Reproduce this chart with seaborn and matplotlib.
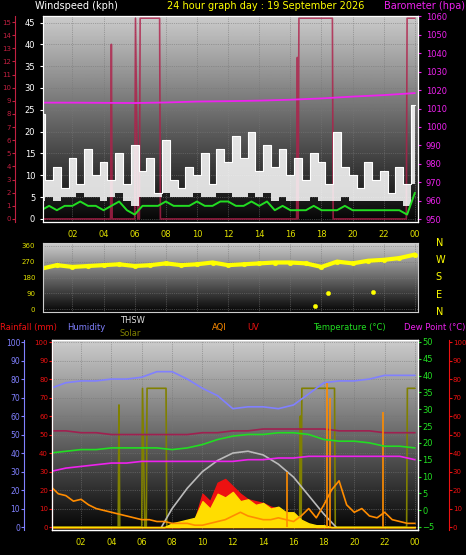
import numpy as np
import matplotlib
matplotlib.use("Agg")
import matplotlib.pyplot as plt
import seaborn as sns

# -----------------------------
# Data
# -----------------------------
half_hours = [i * 0.5 for i in range(49)]
hours = list(range(25))
two_hours = list(range(0, 25, 2))

wind_gust = [24, 9, 12, 7, 14, 8, 16, 10, 13, 9, 15, 8, 17, 11, 14, 6, 18, 9, 7, 12,
             10, 15, 8, 16, 13, 19, 14, 20, 11, 17, 12, 16, 10, 14, 9, 15, 13, 8, 20, 12,
             10, 7, 13, 9, 11, 6, 12, 8, 26]
wind_low = [4, 5, 4, 5, 5, 6, 5, 5, 4, 5, 6, 4, 3, 5, 5, 5, 6, 5, 5, 5, 6, 5, 5, 6, 6,
            5, 5, 6, 5, 6, 4, 5, 4, 4, 4, 5, 4, 4, 4, 5, 4, 4, 4, 4, 4, 4, 4, 3, 8]
wind_avg = [2, 3, 2, 3, 3, 4, 3, 3, 2, 3, 4, 2, 1, 3, 3, 3, 4, 3, 3, 3, 4, 3, 3, 4, 4,
            3, 3, 4, 3, 4, 2, 3, 2, 2, 2, 3, 2, 2, 2, 3, 2, 2, 2, 2, 2, 2, 2, 1, 6]
barometer = [1013.2, 1013.2, 1013.1, 1013.0, 1013.3, 1013.8, 1014.0, 1014.3, 1014.8,
             1015.5, 1016.5, 1017.3, 1018.4]
rain_t = [0, 4.45, 4.5, 4.55, 6.0, 6.05, 6.2, 6.3, 6.35, 7.6, 7.65, 16.4, 16.45, 16.5, 16.55,
          18.7, 18.75, 23.45, 23.5, 24.0]
rain_v = [0, 0, 40, 0, 0, 46, 0, 0, 46, 46, 0, 0, 37, 0, 46, 46, 0, 0, 46, 46]

wind_dir = [230, 250, 240, 245, 250, 255, 245, 250, 260, 250, 255, 265, 250, 255, 260,
            265, 265, 260, 240, 270, 260, 275, 280, 290, 310]
dir_out_t = [17.6, 18.4, 21.3]
dir_out_v = [20, 90, 100]

humidity = [75, 78, 79, 79, 80, 80, 81, 84, 84, 80, 75, 71, 64, 65, 65, 64, 66, 72, 78,
            79, 79, 80, 82, 82, 82]
temperature = [17, 17.5, 18, 18, 18.5, 18.5, 18.5, 18.5, 18, 18.5, 19.5, 21, 22, 22.5,
               22.5, 23, 23, 22.5, 21, 20.5, 20.5, 20, 19, 19, 18.5]
dew_point = [11.5, 12.5, 13, 13.5, 14, 14, 14.5, 14.5, 14.5, 14.5, 14.5, 14.5, 14.5, 15,
             15, 15.5, 15.5, 16, 16, 16, 16, 16, 16, 16, 15]
thsw = [52, 52, 51, 51, 50, 50, 50, 50, 50, 50, 51, 51, 52, 52, 53, 53, 53, 53, 53, 52,
        52, 52, 51, 51, 51]
sun_t = [7.3, 8, 9, 10, 11, 12, 13, 14, 15, 16, 17, 18, 18.8]
sun_v = [0, 10, 21, 30, 36, 40, 41, 39, 34, 27, 17, 7, 0]
solar_v = [0, 0, 66, 0, 0, 75, 0, 0, 75, 75, 0, 0, 60, 0, 75, 75, 0, 0, 75, 75]

aqi = [22, 18, 17, 14, 15, 12, 10, 9, 8, 7, 6, 5, 4, 4, 3, 3, 2, 2, 2, 1, 1, 2, 3, 4, 6,
       8, 6, 5, 4, 4, 5, 4, 3, 6, 10, 5, 12, 20, 25, 12, 8, 10, 6, 5, 8, 4, 3, 2, 2]
solar_fill = [0] * 16 + [2, 3, 4, 5, 14, 10, 18, 16, 19, 14, 15, 12, 13, 10, 11, 8, 8, 4,
                         2, 1, 1] + [0] * 12
uv_fill = [0] * 18 + [3, 4, 18, 14, 24, 26, 22, 18, 15, 14, 13, 11, 10, 7, 5, 2, 1] + [0] * 14
aqi_spike_t = [15.6, 18.2, 18.4, 21.9]
aqi_spike_v = [30, 78, 70, 62]

tick_pos = list(range(2, 25, 2))
tick_lab = ["%02d" % (h % 24) for h in tick_pos]

# -----------------------------
# Figure
# -----------------------------
sns.set_style("dark")
plt.rcParams["font.family"] = ["DejaVu Sans"]
fig = plt.figure(figsize=(4.66, 5.55), dpi=100, facecolor="black")

ax_top = fig.add_axes([0.092, 0.6, 0.805, 0.372])
ax_mid = fig.add_axes([0.092, 0.438, 0.805, 0.124])
ax_bot = fig.add_axes([0.112, 0.045, 0.785, 0.342])

grad = np.linspace(0.8, 0.02, 256).reshape(-1, 1)
for ax in [ax_top, ax_mid, ax_bot]:
    ax.set_facecolor("black")
    ax.imshow(grad, cmap="gray", vmin=0, vmax=1, aspect="auto",
              extent=[0, 1, 0, 1], transform=ax.transAxes, zorder=0)
    ax.set_xlim(0.1, 24.2)
    ax.set_xticks(tick_pos)
    ax.set_xticklabels(tick_lab, color="#e0e000", fontsize=6)
    ax.grid(True, color="#777777", linestyle=":", linewidth=0.5)
    for s in ax.spines.values():
        s.set_color("#cccccc")
    ax.tick_params(axis="y", labelsize=6, length=2)
    ax.tick_params(axis="x", length=2, colors="#e0e000")
ax_mid.set_xticklabels([])

# --- top: wind & barometer ---
sns.lineplot(x=rain_t, y=rain_v, ax=ax_top, color="#b0204a", linewidth=1.2, alpha=0.8)
ax_top.fill_between(half_hours, wind_low, wind_gust, step="mid", color="white",
                    alpha=0.85, linewidth=0, zorder=2)
sns.lineplot(x=half_hours, y=wind_gust, ax=ax_top, color="white", linewidth=0.8,
             drawstyle="steps-mid")
sns.lineplot(x=half_hours, y=wind_avg, ax=ax_top, color="#22dd22", linewidth=1.4)
ax_top.set_ylim(-0.7, 46.6)
ax_top.set_yticks(range(0, 50, 5))
ax_top.tick_params(axis="y", colors="white")
ax_top.set_ylabel("")

ax_baro = ax_top.twinx()
sns.lineplot(x=two_hours, y=barometer, ax=ax_baro, color="#ee22ee", linewidth=1.3)
ax_baro.set_ylim(948.4, 1060.5)
ax_baro.set_yticks(range(950, 1061, 10))
ax_baro.tick_params(axis="y", colors="#ee22ee", labelsize=6, length=2)
ax_baro.set_ylabel("")

ax_rain = ax_top.twinx()
ax_rain.spines["left"].set_position(("outward", 20))
ax_rain.yaxis.set_ticks_position("left")
ax_rain.set_ylim(-0.23, 15.5)
ax_rain.set_yticks(range(0, 16))
ax_rain.tick_params(axis="y", colors="#c02040", labelsize=5, length=2, pad=1)
ax_rain.spines["left"].set_color("#c02040")

fig.text(0.075, 0.998, "Windspeed (kph)", color="white", fontsize=7, ha="left", va="top")
fig.text(0.57, 0.998, "24 hour graph day : 19 September 2026", color="yellow",
         fontsize=7, ha="center", va="top")
fig.text(0.998, 0.998, "Barometer (hpa)", color="#ee22ee", fontsize=7, ha="right", va="top")

# --- middle: wind direction ---
sns.scatterplot(x=hours, y=wind_dir, ax=ax_mid, color="yellow", s=12, edgecolor=None)
sns.lineplot(x=hours, y=wind_dir, ax=ax_mid, color="yellow", linewidth=3)
sns.scatterplot(x=dir_out_t, y=dir_out_v, ax=ax_mid, color="yellow", s=10, edgecolor=None)
ax_mid.set_ylim(-15, 375)
ax_mid.set_yticks([0, 90, 180, 270, 360])
ax_mid.tick_params(axis="y", colors="#e0e000", labelsize=5)
ax_mid.set_ylabel("")
for lab, yy in zip(["N", "W", "S", "E", "N"], [0.562, 0.531, 0.5, 0.469, 0.438]):
    fig.text(0.935, yy, lab, color="yellow", fontsize=7, ha="left", va="center")

# --- bottom: temperature, humidity, solar etc ---
ax_bot.fill_between(half_hours, uv_fill, color="#ee1111", zorder=2)
ax_bot.fill_between(half_hours, solar_fill, color="#ffdd00", zorder=3)
sns.lineplot(x=half_hours, y=aqi, ax=ax_bot, color="#ff8c00", linewidth=1.2, zorder=4)
ax_bot.vlines(aqi_spike_t, 0, aqi_spike_v, color="#ff8c00", linewidth=1.2, zorder=4)
sns.lineplot(x=rain_t, y=solar_v, ax=ax_bot, color="#808000", linewidth=1.2)
sns.lineplot(x=sun_t, y=sun_v, ax=ax_bot, color="#bbbbbb", linewidth=1.2)
sns.lineplot(x=hours, y=humidity, ax=ax_bot, color="#8080ff", linewidth=1.2)
sns.lineplot(x=hours, y=thsw, ax=ax_bot, color="#a02050", linewidth=1.2)
ax_bot.set_ylim(-1.6, 101)
ax_bot.set_yticks(range(0, 101, 10))
ax_bot.yaxis.set_ticks_position("none")
ax_bot.set_yticklabels([])
ax_bot.set_ylabel("")

ax_hum = ax_bot.twinx()
ax_hum.spines["left"].set_position(("outward", 20))
ax_hum.spines["left"].set_color("#8080ff")
ax_hum.yaxis.set_ticks_position("left")
ax_hum.set_ylim(-1.6, 101)
ax_hum.set_yticks(range(0, 101, 10))
ax_hum.tick_params(axis="y", colors="#8080ff", labelsize=5.5, length=2, pad=1)

ax_rl = ax_bot.twinx()
ax_rl.yaxis.set_ticks_position("left")
ax_rl.set_ylim(-1.6, 101)
ax_rl.set_yticks(range(0, 101, 10))
ax_rl.tick_params(axis="y", colors="#ee1111", labelsize=5, length=2, pad=1)
ax_rl.spines["left"].set_color("#ee1111")

ax_temp = ax_bot.twinx()
sns.lineplot(x=hours, y=temperature, ax=ax_temp, color="#22dd22", linewidth=1.2)
sns.lineplot(x=hours, y=dew_point, ax=ax_temp, color="#ee22ee", linewidth=1.2)
ax_temp.set_ylim(-5.9, 50.5)
ax_temp.set_yticks(range(-5, 51, 5))
ax_temp.tick_params(axis="y", colors="#22dd22", labelsize=6, length=2, pad=1)
ax_temp.set_ylabel("")

ax_uvr = ax_bot.twinx()
ax_uvr.spines["right"].set_position(("outward", 22))
ax_uvr.set_ylim(-1.6, 101)
ax_uvr.set_yticks(range(0, 101, 10))
ax_uvr.tick_params(axis="y", colors="#ee1111", labelsize=5, length=2, pad=1)
ax_uvr.spines["right"].set_color("#ee1111")

fig.text(0.0, 0.41, "Rainfall (mm)", color="#ee1111", fontsize=6, va="center")
fig.text(0.145, 0.41, "Humidity", color="#8080ff", fontsize=6, va="center")
fig.text(0.257, 0.423, "THSW", color="#dddddd", fontsize=6, va="center")
fig.text(0.257, 0.399, "Solar", color="#808000", fontsize=6, va="center")
fig.text(0.455, 0.41, "AQI", color="#ff8c00", fontsize=6, va="center")
fig.text(0.53, 0.41, "UV", color="#ee1111", fontsize=6, va="center")
fig.text(0.672, 0.41, "Temperature (°C)", color="#22dd22", fontsize=6, va="center")
fig.text(0.998, 0.41, "Dew Point (°C)", color="#ee22ee", fontsize=6, va="center", ha="right")

plt.savefig("out.png", dpi=100, facecolor="black")
plt.close()
